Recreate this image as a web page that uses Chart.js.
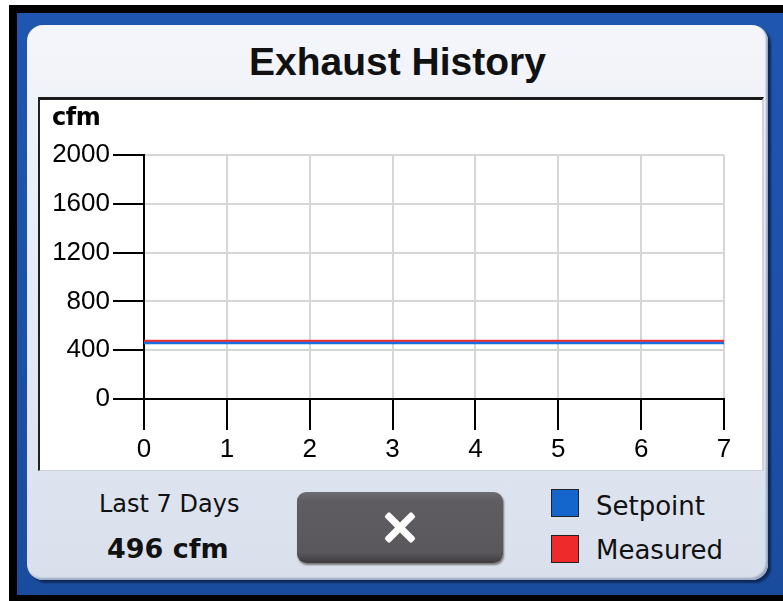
<!DOCTYPE html>
<html>
<head>
<meta charset="utf-8">
<script src="https://cdn.jsdelivr.net/npm/chart.js@4.4.1/dist/chart.umd.min.js"></script>
<style>
  html, body { margin:0; padding:0; width:783px; height:601px; overflow:hidden; background:#fff; }
  #outer { position:absolute; left:9px; top:5px; width:774px; height:596px; background:#000; }
  #blue { position:absolute; left:17px; top:13px; width:766px; height:582px;
          background:linear-gradient(180deg,#1f56b0 0%,#1a4c9e 100%); }
  #panel { position:absolute; left:27px; top:25px; width:741px; height:555px; border-radius:16px;
           background:linear-gradient(180deg,#f4f6fb 0%,#e6eaf3 50%,#d9e0ec 100%);
           box-shadow: 3px 3px 2px #0d2a5c, inset -2px -2px 2px #9aa6bd; }
  #title { position:absolute; left:27px; width:741px; top:40px; text-align:center;
           font-family:"Liberation Sans", Arial, sans-serif; font-weight:bold; font-size:39px; color:#111; }
  #box { position:absolute; left:38px; top:97px; width:726px; height:374px; box-sizing:border-box;
         background:#fff; border-top:3px solid #1a1a1a; border-left:2px solid #222;
         border-right:2px solid #cfd3da; border-bottom:1px solid #cfd3da; }
  #cv { position:absolute; left:40px; top:100px; }
  #unit { position:absolute; left:52px; top:103px; font-family:"DejaVu Sans", sans-serif; font-weight:bold;
          font-size:24px; color:#000; letter-spacing:-0.5px; }
  .txt { position:absolute; font-family:"DejaVu Sans", sans-serif; color:#111; white-space:nowrap; }
  #btn { position:absolute; left:297px; top:492px; width:206px; height:71px; border-radius:9px;
         background:linear-gradient(180deg,#6f6d72 0%,#5f5d62 12%,#5a585d 85%,#3e3c40 100%);
         box-shadow: 1px 2px 2px #777; }
  .bar { position:absolute; left:84px; top:32px; width:38px; height:7px; background:#fff; border-radius:2px; }
  .sw { position:absolute; left:551px; width:26px; height:26px; border:1px solid #222; }
</style>
</head>
<body>
<div id="outer"></div>
<div id="blue"></div>
<div id="panel"></div>
<div id="title">Exhaust History</div>
<div id="box"></div>
<canvas id="cv" width="722" height="370"></canvas>
<div id="unit">cfm</div>
<div class="txt" style="left:99px;top:490px;font-size:24px;">Last 7 Days</div>
<div class="txt" style="left:107px;top:533px;font-size:27px;font-weight:bold;">496 cfm</div>
<div id="btn"><div class="bar" style="transform:rotate(45deg)"></div><div class="bar" style="transform:rotate(-45deg)"></div></div>
<div class="sw" style="top:489px;background:#1466cc;"></div>
<div class="sw" style="top:535px;background:#ee2a2a;"></div>
<div class="txt" style="left:596px;top:491px;font-size:26px;">Setpoint</div>
<div class="txt" style="left:596px;top:535px;font-size:26px;">Measured</div>
<script>
const days = [0, 1, 2, 3, 4, 5, 6, 7];
const setpoint = [458, 458, 458, 458, 458, 458, 458, 458];
const measured = [475, 475, 475, 475, 475, 475, 475, 475];
const yTicks = [0, 400, 800, 1200, 1600, 2000];

const toXY = arr => days.map((d, i) => ({ x: d, y: arr[i] }));
const tickFont = { family: "Liberation Sans", size: 26 };

new Chart(document.getElementById('cv'), {
  type: 'line',
  data: {
    datasets: [
      { label: 'Setpoint', data: toXY(setpoint), borderColor: '#1a6ee0', borderWidth: 2.5, pointRadius: 0, fill: false },
      { label: 'Measured', data: toXY(measured), borderColor: '#f03030', borderWidth: 2.5, pointRadius: 0, fill: false }
    ]
  },
  options: {
    responsive: false,
    animation: false,
    layout: { padding: { top: 55, right: 38, left: 0, bottom: 0 } },
    plugins: { legend: { display: false }, tooltip: { enabled: false } },
    scales: {
      x: {
        type: 'linear', min: 0, max: 7,
        afterFit: s => { s.height = 71; },
        ticks: { stepSize: 1, color: '#000', font: tickFont, padding: 4, maxRotation: 0,
                 callback: v => String(v) },
        grid: { color: '#d6d6d6', lineWidth: 2, tickColor: '#000', tickWidth: 2, tickLength: 31 },
        border: { color: '#000', width: 2 }
      },
      y: {
        min: 0, max: 2000,
        afterFit: s => { s.width = 104; },
        afterBuildTicks: s => { s.ticks = yTicks.map(v => ({ value: v })); },
        ticks: { color: '#000', font: tickFont, padding: 3, callback: v => String(v) },
        grid: { color: '#d6d6d6', lineWidth: 2, tickColor: '#000', tickWidth: 2, tickLength: 31 },
        border: { color: '#000', width: 2 }
      }
    }
  }
});
</script>
</body>
</html>
